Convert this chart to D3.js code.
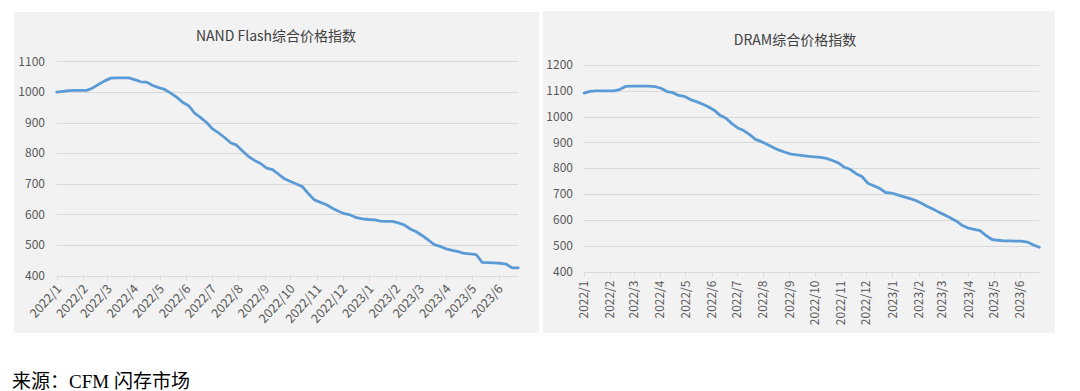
<!DOCTYPE html>
<html><head><meta charset="utf-8">
<script src="https://cdn.jsdelivr.net/npm/d3@7"></script>
<style>
body{margin:0;background:#fff;}
svg{display:block;}
text{font-family:"Noto Sans CJK SC","Noto Sans",sans-serif;}
</style>
</head><body>
<svg id="c" width="1080" height="391"></svg>
<script>
// ---- data ----
const startDate = "2022-01-01"; // weekly observations
const nandValues = [999,1002,1004,1005,1005,1005,1013,1025,1036,1045,1046,1046,1046,1040,1033,1032,1021,1014,1008,996,
  983,966,955,931,916,900,879,866,851,834,826,807,789,776,766,751,746,731,716,707,
  699,690,667,647,639,631,620,610,602,598,589,585,583,582,578,577,577,572,565,552,
  543,530,516,501,495,487,482,478,472,471,468,443,442,441,440,437,425,425];
const dramValues = [1091,1098,1100,1100,1100,1100,1105,1117,1118,1118,1118,1118,1116,1110,1097,1093,1082,1078,1066,1058,
  1049,1038,1025,1005,994,973,956,946,930,912,903,892,880,870,862,855,852,849,846,844,
  842,838,830,821,804,796,779,768,742,732,722,706,704,697,690,683,676,665,653,642,
  630,619,607,595,578,568,563,558,539,524,521,519,519,518,518,514,503,494];
const monthLabels = ["2022/1","2022/2","2022/3","2022/4","2022/5","2022/6","2022/7","2022/8","2022/9","2022/10",
  "2022/11","2022/12","2023/1","2023/2","2023/3","2023/4","2023/5","2023/6"];
const nandYTicks = [400,500,600,700,800,900,1000,1100];
const dramYTicks = [400,500,600,700,800,900,1000,1100,1200];
const titles = ["NAND Flash综合价格指数","DRAM综合价格指数"];
const sourceText = "来源：CFM 闪存市场";

// ---- drawing ----
const svg = d3.select("#c");
const parse = d3.utcParse("%Y-%m-%d");
const t0 = parse(startDate);
const dates = nandValues.map((_, i) => d3.utcDay.offset(t0, 7 * i));
const monthDates = monthLabels.map(s => { const [y, m] = s.split("/"); return new Date(Date.UTC(+y, +m - 1, 1)); });

function panel(cfg) {
  const g = svg.append("g");
  g.append("rect").attr("x", cfg.bx).attr("y", cfg.by).attr("width", cfg.bw).attr("height", cfg.bh).attr("fill", "#f2f2f2");
  const x = d3.scaleUtc().domain([dates[0], dates[dates.length - 1]]).range([cfg.x0, cfg.x1]);
  const y = d3.scaleLinear().domain([400, cfg.ymax]).range([cfg.y0, cfg.y1]);

  // grid
  g.selectAll(".grid").data(cfg.yTicks).join("line")
    .attr("x1", cfg.x0).attr("x2", cfg.x1)
    .attr("y1", d => Math.round(y(d)) + 0.5).attr("y2", d => Math.round(y(d)) + 0.5)
    .attr("stroke", "#d9d9d9").attr("stroke-width", 1);
  // y labels
  g.selectAll(".yl").data(cfg.yTicks).join("text")
    .attr("x", cfg.ylx).attr("y", d => y(d)).attr("dy", "0.35em")
    .attr("text-anchor", "end").attr("font-size", 12).attr("fill", "#595959")
    .text(d => d);
  // x ticks
  g.selectAll(".xt").data(monthDates).join("line")
    .attr("x1", d => Math.round(x(d)) + 0.5).attr("x2", d => Math.round(x(d)) + 0.5)
    .attr("y1", cfg.y0).attr("y2", cfg.y0 + 5)
    .attr("stroke", "#d9d9d9").attr("stroke-width", 1);
  // x labels
  g.selectAll(".xl").data(monthDates).join("text")
    .attr("transform", d => `translate(${x(d) + cfg.lxOff},${cfg.y0 + cfg.lyOff}) rotate(${cfg.rot})`)
    .attr("dy", "0.35em").attr("text-anchor", "end")
    .attr("font-size", cfg.lfs).attr("fill", "#595959")
    .text((d, i) => monthLabels[i]);
  // title
  g.append("text").attr("x", cfg.tx).attr("y", cfg.ty).attr("text-anchor", "middle")
    .attr("font-size", 14).attr("fill", "#404040").text(cfg.title);
  // line
  const line = d3.line().x((d, i) => x(dates[i])).y(d => y(d));
  g.append("path").datum(cfg.values).attr("d", line)
    .attr("fill", "none").attr("stroke", "#5b9bd5").attr("stroke-width", 2.8)
    .attr("stroke-linejoin", "round").attr("stroke-linecap", "round");
}

panel({bx: 14, by: 12, bw: 525, bh: 321, x0: 56.8, x1: 518.2, y0: 275.5, y1: 61.3, ymax: 1100,
  yTicks: nandYTicks, ylx: 45, lxOff: 2, lyOff: 11, rot: -48, lfs: 12.5, tx: 276, ty: 41,
  title: titles[0], values: nandValues});
panel({bx: 543, by: 11, bw: 512, bh: 322, x0: 584.1, x1: 1039.3, y0: 271.5, y1: 65, ymax: 1200,
  yTicks: dramYTicks, ylx: 573, lxOff: 0, lyOff: 9, rot: -90, lfs: 12, tx: 795, ty: 45,
  title: titles[1], values: dramValues});

svg.append("text").attr("x", 12).attr("y", 388)
  .attr("font-size", 19).attr("fill", "#000")
  .style("font-family", '"Liberation Serif","Noto Sans CJK SC",serif')
  .text(sourceText);
</script>
</body></html>
